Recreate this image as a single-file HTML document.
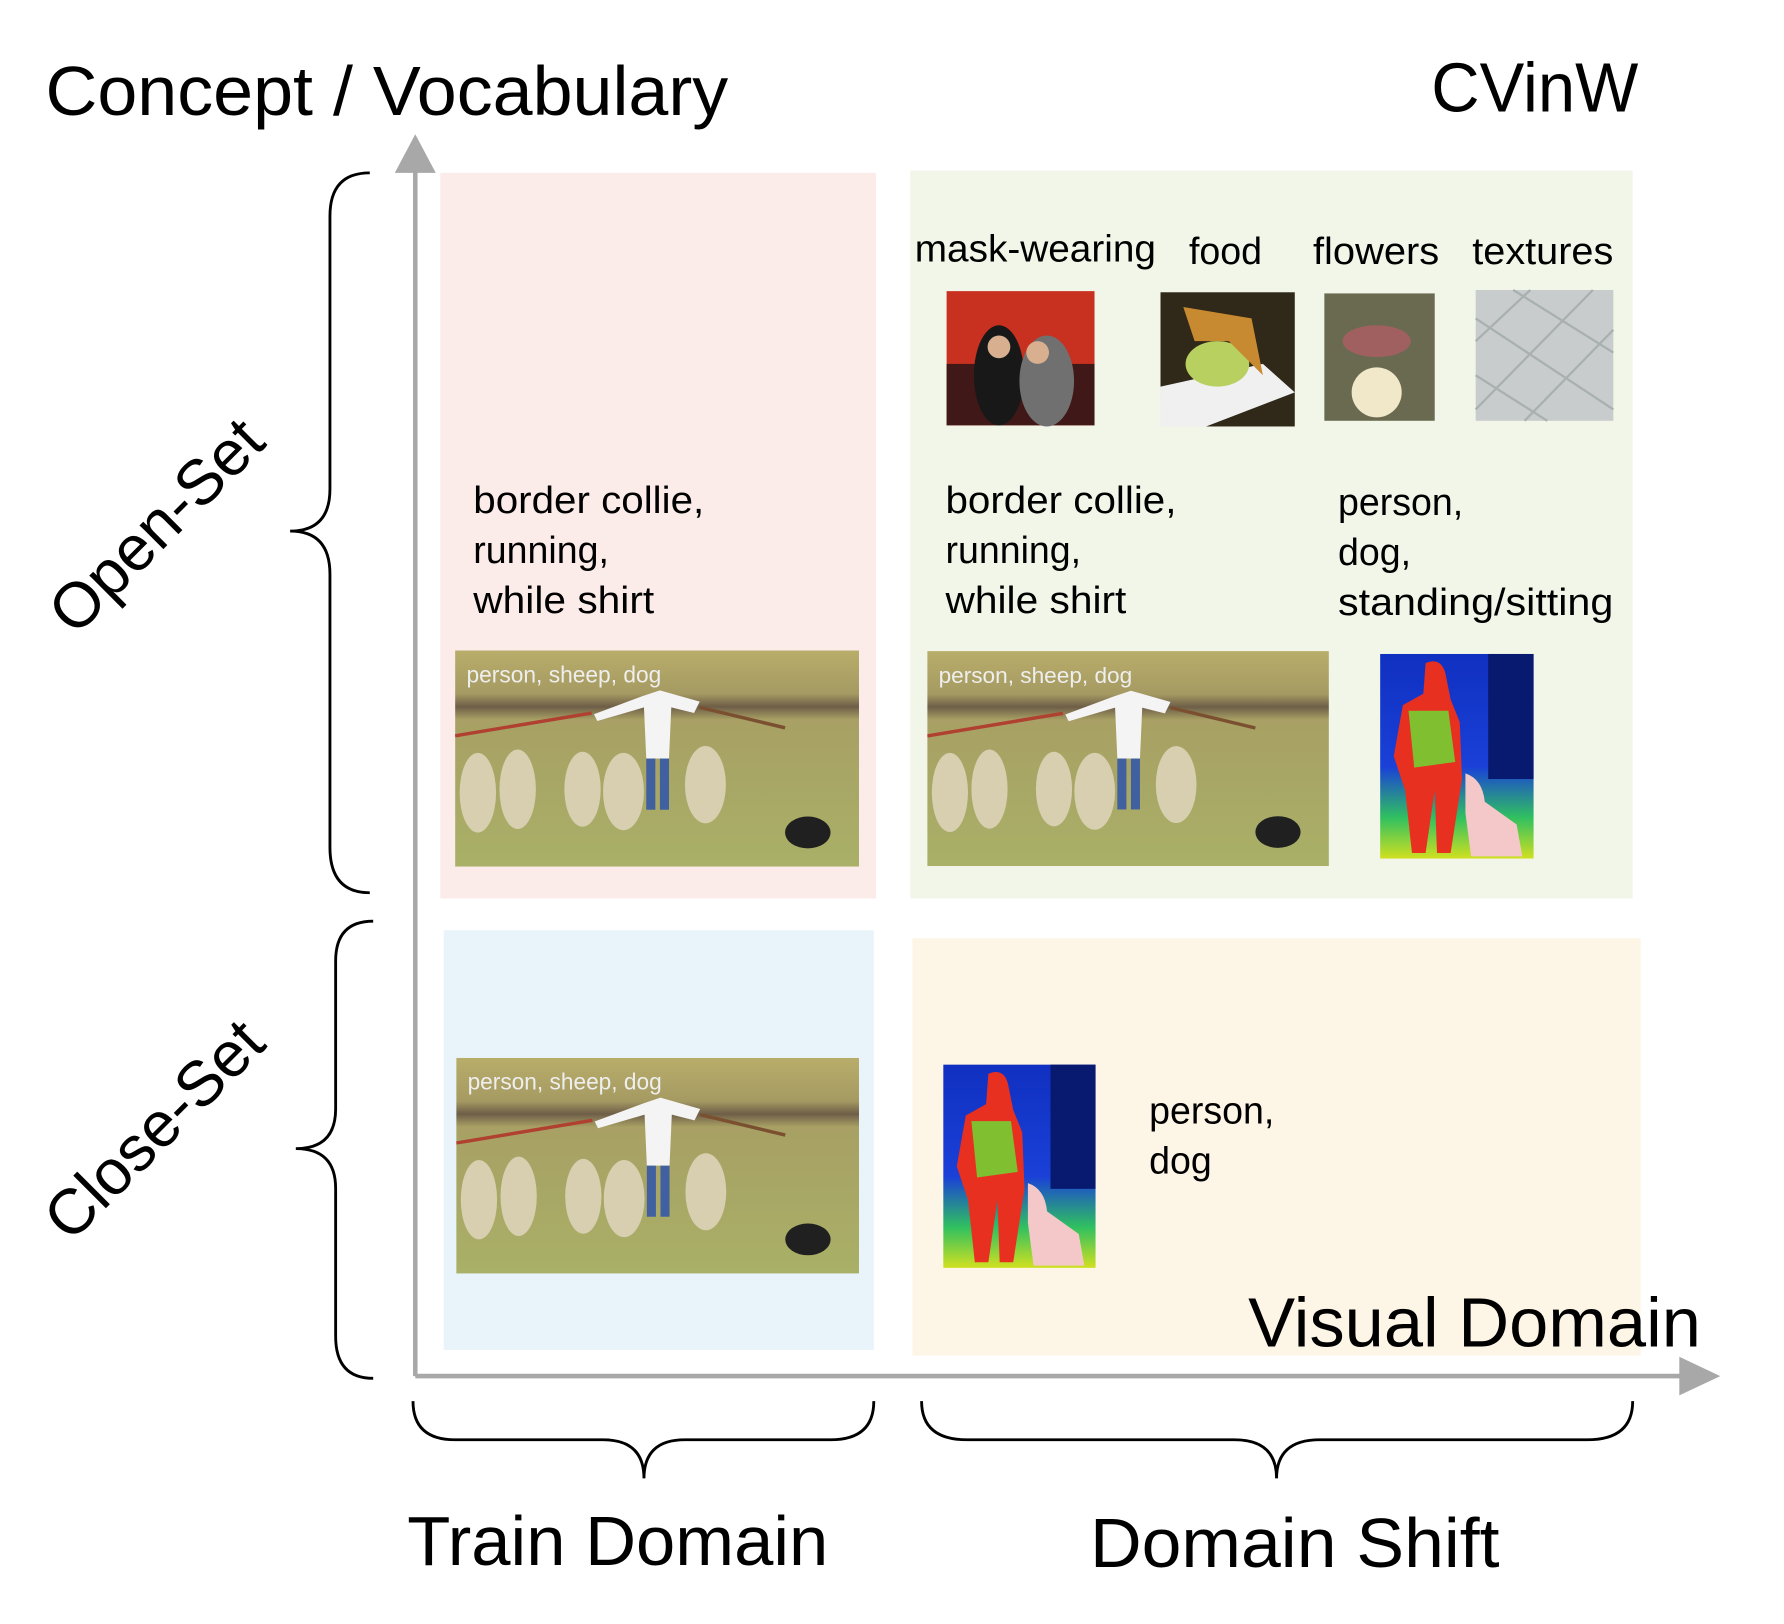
<!DOCTYPE html>
<html><head><meta charset="utf-8"><style>
html,body{margin:0;padding:0;background:#fff;}
svg{display:block;}
text{font-family:"Liberation Sans","DejaVu Sans",sans-serif;fill:#000;}
</style></head><body>
<svg width="1784" height="1624" viewBox="0 0 1568 1428" preserveAspectRatio="none" xmlns="http://www.w3.org/2000/svg">
<defs>
<linearGradient id="grass" x1="0" y1="0" x2="0" y2="1">
<stop offset="0" stop-color="#b9ad6a"/><stop offset="0.2" stop-color="#a59a62"/>
<stop offset="0.26" stop-color="#6e5e48"/><stop offset="0.32" stop-color="#a8a064"/>
<stop offset="1" stop-color="#a9b067"/></linearGradient>
<linearGradient id="therm" x1="0" y1="0" x2="0" y2="1">
<stop offset="0" stop-color="#1030c0"/><stop offset="0.55" stop-color="#1a40d8"/>
<stop offset="0.8" stop-color="#30c060"/><stop offset="1" stop-color="#d0e020"/></linearGradient>
<symbol id="sheep" viewBox="0 0 355 190">
<rect width="355" height="190" fill="url(#grass)"/>
<path d="M0 75 L120 55" stroke="#b04030" stroke-width="3"/>
<path d="M215 50 L290 68" stroke="#7a5030" stroke-width="3"/>
<path d="M165 40 L180 35 L215 45 L210 55 L190 50 L188 95 L168 95 L166 50 L125 62 L122 56 Z" fill="#f4f4f4"/>
<rect x="168" y="95" width="8" height="45" fill="#4060a0"/><rect x="180" y="95" width="8" height="45" fill="#4060a0"/>
<g fill="#d8ceb0">
<ellipse cx="20" cy="125" rx="16" ry="35"/><ellipse cx="55" cy="122" rx="16" ry="35"/>
<ellipse cx="112" cy="122" rx="16" ry="33"/><ellipse cx="148" cy="124" rx="18" ry="34"/>
<ellipse cx="220" cy="118" rx="18" ry="34"/></g>
<ellipse cx="310" cy="160" rx="20" ry="14" fill="#202020"/>
<text x="10" y="28" font-size="20" style="fill:#eeeeee">person, sheep, dog</text>
</symbol>
<symbol id="thermal" viewBox="0 0 135 180">
<rect width="135" height="180" fill="url(#therm)"/>
<rect x="95" y="0" width="40" height="110" fill="#081a70"/>
<path d="M40 8 Q55 2 58 20 L62 40 L70 60 L72 110 L62 175 L50 175 L48 120 L40 175 L28 175 L22 120 L12 90 L20 45 L38 35 Z" fill="#e83020"/>
<path d="M25 50 L60 50 L66 95 L30 100 Z" fill="#80c030"/>
<path d="M75 105 Q90 110 92 130 L120 150 L125 178 L80 178 L75 140 Z" fill="#f4c8c8"/>
</symbol>
</defs>

<text x="40" y="101" font-size="61" textLength="600" lengthAdjust="spacingAndGlyphs">Concept / Vocabulary</text>
<text x="1258" y="98" font-size="61" textLength="182" lengthAdjust="spacingAndGlyphs">CVinW</text>

<rect x="387" y="152" width="383" height="638" fill="#fbecea"/>
<rect x="800" y="150" width="635" height="640" fill="#f1f6e9"/>
<rect x="390" y="818" width="378" height="369" fill="#e8f4fa"/>
<rect x="802" y="825" width="640" height="367" fill="#fdf5e6"/>

<line x1="365" y1="145" x2="365" y2="1210" stroke="#a8a8a8" stroke-width="4"/>
<polygon points="347,152 365,118 383,152" fill="#a8a8a8"/>
<line x1="365" y1="1210" x2="1480" y2="1210" stroke="#a8a8a8" stroke-width="4"/>
<polygon points="1476,1193 1512,1210 1476,1227" fill="#a8a8a8"/>

<g fill="none" stroke="#000" stroke-width="2.5">
<path d="M325 152 Q290 152 290 190 L290 430 Q290 467 255 467 Q290 467 290 505 L290 745 Q290 785 325 785"/>
<path d="M328 810 Q295 810 295 845 L295 975 Q295 1010 260 1010 Q295 1010 295 1045 L295 1175 Q295 1212 328 1212"/>
<path d="M363 1232 Q363 1266 400 1266 L530 1266 Q566 1266 566 1300 Q566 1266 602 1266 L730 1266 Q768 1266 768 1232"/>
<path d="M810 1232 Q810 1266 850 1266 L1085 1266 Q1122 1266 1122 1300 Q1122 1266 1160 1266 L1395 1266 Q1435 1266 1435 1232"/>
</g>

<text transform="translate(138,463) rotate(-45)" text-anchor="middle" font-size="56" dy="18">Open-Set</text>
<text transform="translate(136,994) rotate(-45)" text-anchor="middle" font-size="56" dy="18">Close-Set</text>

<g font-size="33">
<text x="804" y="230" textLength="212" lengthAdjust="spacingAndGlyphs">mask-wearing</text>
<text x="1045" y="232">food</text>
<text x="1154" y="232" textLength="111" lengthAdjust="spacingAndGlyphs">flowers</text>
<text x="1294" y="232" textLength="124" lengthAdjust="spacingAndGlyphs">textures</text>
<text x="416" y="451" textLength="203" lengthAdjust="spacingAndGlyphs">border collie,</text>
<text x="416" y="495">running,</text>
<text x="416" y="539" textLength="159" lengthAdjust="spacingAndGlyphs">while shirt</text>
<text x="831" y="451" textLength="203" lengthAdjust="spacingAndGlyphs">border collie,</text>
<text x="831" y="495">running,</text>
<text x="831" y="539" textLength="159" lengthAdjust="spacingAndGlyphs">while shirt</text>
<text x="1176" y="453">person,</text>
<text x="1176" y="497">dog,</text>
<text x="1176" y="541" textLength="242" lengthAdjust="spacingAndGlyphs">standing/sitting</text>
<text x="1010" y="988">person,</text>
<text x="1010" y="1032">dog</text>
</g>

<rect x="832" y="256" width="130" height="118" fill="#c83020"/>
<rect x="832" y="320" width="130" height="54" fill="#401818"/>
<ellipse cx="878" cy="330" rx="22" ry="44" fill="#181818"/><ellipse cx="920" cy="335" rx="24" ry="40" fill="#707070"/>
<circle cx="878" cy="305" r="10" fill="#d8b090"/><circle cx="912" cy="310" r="10" fill="#d8b090"/>
<rect x="1020" y="257" width="118" height="118" fill="#302818"/>
<polygon points="1020,340 1110,320 1138,345 1060,375 1020,375" fill="#f0f0f0"/>
<ellipse cx="1070" cy="320" rx="28" ry="20" fill="#b8d060"/>
<path d="M1040 270 L1100 280 L1110 330 L1080 300 L1050 300 Z" fill="#c88a30"/>
<rect x="1164" y="258" width="97" height="112" fill="#6a6a50"/>
<ellipse cx="1210" cy="345" rx="22" ry="22" fill="#f0e8c8"/>
<ellipse cx="1210" cy="300" rx="30" ry="14" fill="#a06060"/>
<rect x="1297" y="255" width="121" height="115" fill="#c8cccc"/>
<g stroke="#a8b0b0" stroke-width="2"><path d="M1297 280 L1418 360 M1297 330 L1360 370 M1330 255 L1418 310 M1297 360 L1400 255 M1297 300 L1345 255 M1340 370 L1418 290"/></g>

<use href="#sheep" x="400" y="572" width="355" height="190"/>
<use href="#sheep" x="815" y="572" width="353" height="190"/>
<use href="#sheep" x="401" y="930" width="354" height="190"/>
<use href="#thermal" x="1213" y="575" width="135" height="180"/>
<use href="#thermal" x="829" y="936" width="134" height="179"/>

<text x="1097" y="1184" font-size="61" textLength="398" lengthAdjust="spacingAndGlyphs">Visual Domain</text>
<text x="358" y="1376" font-size="61" textLength="370" lengthAdjust="spacingAndGlyphs">Train Domain</text>
<text x="958" y="1378" font-size="61" textLength="360" lengthAdjust="spacingAndGlyphs">Domain Shift</text>
</svg>
</body></html>
